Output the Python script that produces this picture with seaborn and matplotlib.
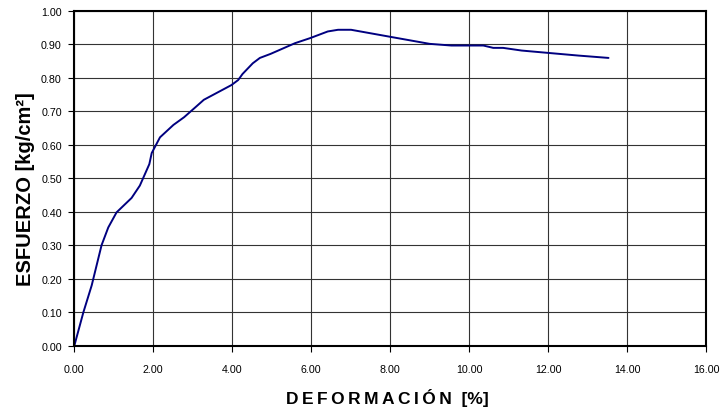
import numpy as np
import pandas as pd
import matplotlib
matplotlib.use('Agg')
import matplotlib.pyplot as plt
import seaborn as sns

# curva esfuerzo-deformacion
deformacion = [0.00, 0.23, 0.44, 0.69, 0.86, 1.07, 1.45, 1.66, 1.90, 1.96,
               2.17, 2.51, 2.78, 3.06, 3.28, 3.98, 4.15, 4.26, 4.52, 4.70,
               4.97, 5.59, 5.97, 6.42, 6.68, 7.01, 8.05, 9.00, 9.55, 10.36,
               10.61, 10.86, 11.33, 12.00, 12.77, 13.53]
esfuerzo = [0.000, 0.100, 0.180, 0.300, 0.353, 0.398, 0.441, 0.478, 0.542, 0.575,
            0.622, 0.659, 0.682, 0.711, 0.734, 0.778, 0.793, 0.811, 0.843, 0.859,
            0.871, 0.903, 0.918, 0.938, 0.943, 0.943, 0.921, 0.901, 0.896, 0.896,
            0.889, 0.889, 0.881, 0.874, 0.866, 0.859]

x_ticks = np.arange(0, 16.01, 2)
y_ticks = np.arange(0, 1.001, 0.1)

df = pd.DataFrame({'def': deformacion, 'esf': esfuerzo})

sns.set_style("white")
plt.rcParams['font.family'] = ['Liberation Sans', 'DejaVu Sans']

fig = plt.figure(figsize=(7.23, 4.10), dpi=100)
ax = fig.add_axes([0.1028, 0.1544, 0.8737, 0.8171])

sns.lineplot(data=df, x='def', y='esf', ax=ax, color='#000080', linewidth=1.4,
             sort=False, estimator=None)

ax.set_xlim(0, 16)
ax.set_ylim(0, 1)
ax.set_xticks(x_ticks)
ax.set_yticks(y_ticks)
ax.set_xticklabels([f"{v:.2f}" for v in x_ticks])
ax.set_yticklabels([f"{v:.2f}" for v in y_ticks])
ax.tick_params(axis='both', labelsize=7.7, direction='out', length=4, width=0.8,
               colors='black', bottom=True, left=True)
ax.tick_params(axis='x', pad=9)
ax.tick_params(axis='y', pad=5)
ax.grid(True, color='#333333', linewidth=0.8)
for s in ax.spines.values():
    s.set_color('black')
    s.set_linewidth(1.5)

xlab = "\u2009".join("DEFORMACIÓN") + "  [%]"
ax.set_xlabel(xlab, fontsize=12.5, fontweight='bold', color='black')
ax.xaxis.set_label_coords(0.495, -0.125)
ax.set_ylabel("ESFUERZO [kg/cm²]", fontsize=14.5, fontweight='bold', color='black')
ax.yaxis.set_label_coords(-0.062, 0.47)

fig.savefig("out.png", dpi=100)
plt.close()
